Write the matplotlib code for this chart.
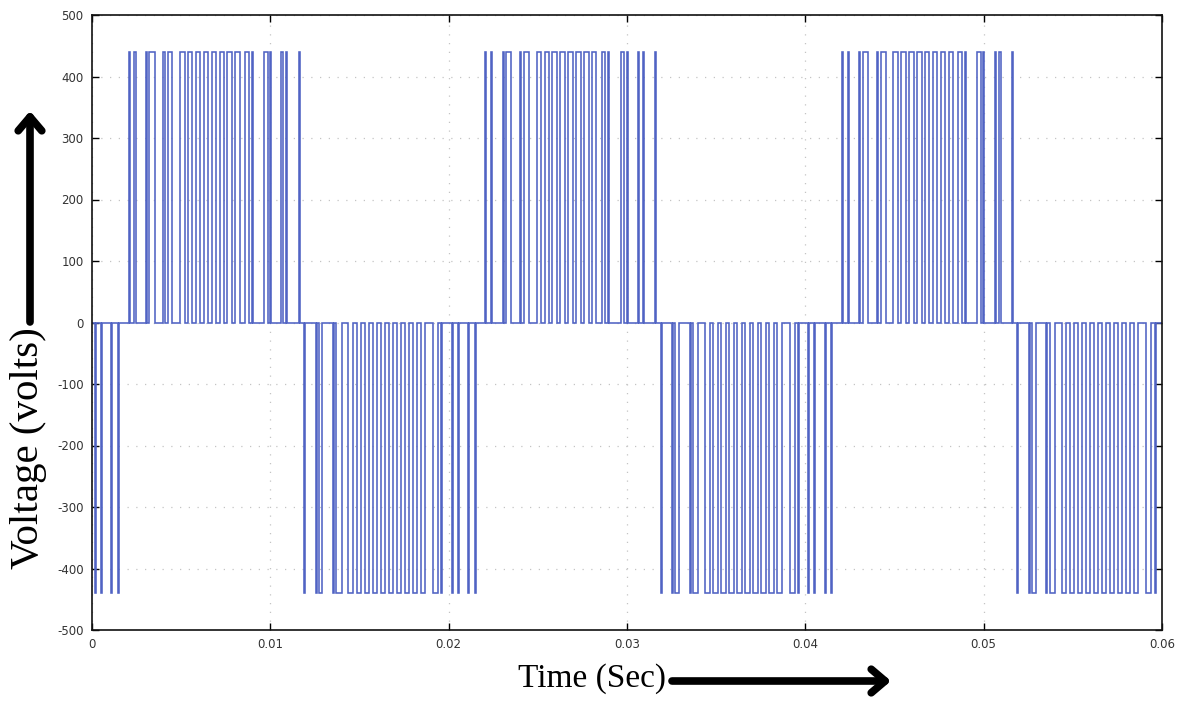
import matplotlib
matplotlib.use("Agg")
import matplotlib.pyplot as plt
import numpy as np

# ---- data, times in milliseconds ----
# positive half-cycle pulses (rise / fall) for the first period
pos_rise = [2.047, 2.383, 3.028, 3.224, 4.009, 4.234,
            4.935, 5.378, 5.821, 6.264, 6.707, 7.150, 7.593, 8.036,
            8.580, 8.944, 9.645, 9.982, 10.626, 10.879, 11.580]
pos_fall = [2.112, 2.448, 3.093, 3.505, 4.074, 4.514,
            5.187, 5.630, 6.073, 6.516, 6.959, 7.402, 7.845, 8.288,
            8.776, 9.009, 9.842, 10.046, 10.691, 10.944, 11.644]
# negative half-cycle pulses (fall / return) for the first period
neg_start = [11.888, 12.533, 12.701, 13.514, 13.710,
             14.383, 14.832, 15.281, 15.729, 16.178, 16.627, 17.075, 17.524, 17.972, 18.421,
             19.122, 19.582, 20.159, 20.496, 21.084, 21.449]
neg_end = [11.953, 12.598, 12.925, 13.579, 13.991,
           14.635, 15.084, 15.533, 15.981, 16.430, 16.879, 17.327, 17.776, 18.224, 18.673,
           19.402, 19.646, 20.224, 20.561, 21.149, 21.514]
pos_period_offsets = [0.0, 20.0, 40.0]
neg_period_offsets = [-20.0, 0.0, 20.0, 40.0]
pos_level = 440
neg_level = -440

x_ticks = [0, 0.01, 0.02, 0.03, 0.04, 0.05, 0.06]
x_tick_labels = ["0", "0.01", "0.02", "0.03", "0.04", "0.05", "0.06"]
y_ticks = [-500, -400, -300, -200, -100, 0, 100, 200, 300, 400, 500]

# ---- build the step waveform ----
pulses = []
for off in pos_period_offsets:
    for r, f in zip(pos_rise, pos_fall):
        pulses.append(((r + off) / 1000.0, (f + off) / 1000.0, pos_level))
for off in neg_period_offsets:
    for s, e in zip(neg_start, neg_end):
        pulses.append(((s + off) / 1000.0, (e + off) / 1000.0, neg_level))
pulses.sort()

t = [-0.001]
v = [0]
for s, e, lvl in pulses:
    t += [s, s, e, e]
    v += [0, lvl, lvl, 0]
t.append(0.061)
v.append(0)

# ---- figure ----
fig = plt.figure(figsize=(11.87, 7.02), dpi=100)
ax = fig.add_axes([92 / 1187, 1 - 630 / 702, (1162 - 92) / 1187, (630 - 15) / 702])

ax.plot(t, v, color="#5063c4", lw=1.15, solid_joinstyle="miter")

ax.set_xlim(0, 0.06)
ax.set_ylim(-500, 500)
ax.set_xticks(x_ticks)
ax.set_xticklabels(x_tick_labels)
ax.set_yticks(y_ticks)
ax.set_yticklabels([str(y) for y in y_ticks])
ax.tick_params(direction="in", length=5, width=1, top=True, right=True,
               labelsize=8.5, labelcolor="#333333", pad=6)
ax.grid(True, color="#c4c4c4", linestyle=(0, (1, 6)), lw=0.9)
for sp in ax.spines.values():
    sp.set_linewidth(1.2)
    sp.set_color("#111111")

# axis titles with arrows (serif)
fig.text(29 / 1187, 1 - 448 / 702, "Voltage (volts)", rotation=90,
         fontsize=29.5, family="Liberation Serif", ha="center", va="center")
fig.text(592 / 1187, 1 - 679 / 702, "Time (Sec)",
         fontsize=24, family="Liberation Serif", ha="center", va="center")

ax.annotate("", xy=(30 / 1187, 1 - 111 / 702), xycoords="figure fraction",
            xytext=(30 / 1187, 1 - 322 / 702), textcoords="figure fraction",
            arrowprops=dict(arrowstyle="->,head_length=1.0,head_width=0.85",
                            lw=5.5, color="black", shrinkA=0, shrinkB=0),
            annotation_clip=False)
ax.annotate("", xy=(891 / 1187, 1 - 681 / 702), xycoords="figure fraction",
            xytext=(672 / 1187, 1 - 681 / 702), textcoords="figure fraction",
            arrowprops=dict(arrowstyle="->,head_length=1.0,head_width=0.85",
                            lw=5.5, color="black", shrinkA=0, shrinkB=0),
            annotation_clip=False)

fig.savefig("out.png", dpi=100)
